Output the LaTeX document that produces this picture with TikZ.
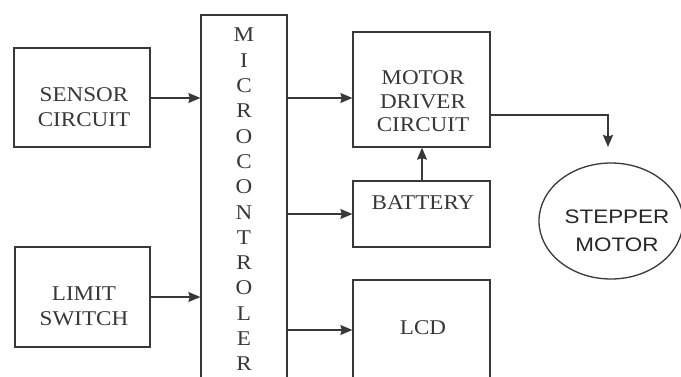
\documentclass[tikz,border=0pt]{standalone}
\usepackage{fontspec}
\setmainfont{Liberation Serif}[FakeStretch=1.1]
\newfontfamily\stepfont{Liberation Sans}[FakeStretch=1.15]
\usetikzlibrary{arrows.meta,shapes.geometric}
\definecolor{ink}{HTML}{383838}
\tikzset{
  box/.style={draw=ink, line width=1.3pt, rectangle, inner sep=0pt},
  lbl/.style={text=ink, align=center, inner sep=0pt, font=\fontsize{21}{25}\selectfont},
  conn/.style={draw=ink, line width=1.3pt, -{Stealth[length=12pt,width=10pt,inset=1.5pt]}},
}
\begin{document}
\begin{tikzpicture}[x=1pt,y=-1pt]
\useasboundingbox[fill=white] (0,0) rectangle (681,376);
% boxes
\node[box, minimum width=136pt, minimum height=99pt] (sensor) at (82,97.5) {};
\node[box, minimum width=135pt, minimum height=100pt] (limit) at (82.5,297) {};
\node[box, minimum width=86pt, minimum height=375pt] (micro) at (244,202.5) {};
\node[box, minimum width=137pt, minimum height=115pt] (driver) at (421.5,89.5) {};
\node[box, minimum width=137pt, minimum height=66pt] (battery) at (421.5,214) {};
\node[box, minimum width=137pt, minimum height=110pt] (lcd) at (421.5,335) {};
\node[draw=ink, line width=1.3pt, ellipse, minimum width=144pt, minimum height=116pt, inner sep=0pt] (stepper) at (611,221) {};
% texts
\node[lbl] (sensortxt) at (84,107) {SENSOR\\CIRCUIT};
\node[lbl] (limittxt) at (84,306) {LIMIT\\SWITCH};
\node[lbl, anchor=north, font=\fontsize{21}{25.3}\selectfont] (microtxt) at (244,28) {M\\I\\C\\R\\O\\C\\O\\N\\T\\R\\O\\L\\E\\R};
\node[lbl, font=\fontsize{21}{23.5}\selectfont] (drivertxt) at (423,101.5) {MOTOR\\DRIVER\\CIRCUIT};
\node[lbl] (batterytxt) at (423,202.5) {BATTERY};
\node[lbl] (lcdtxt) at (423,327.5) {LCD};
\node[lbl, font=\fontsize{19.5}{28}\selectfont\stepfont, text=black!85] (steppertxt) at (617,231) {STEPPER\\MOTOR};
% connectors
\draw[conn] (sensor.east |- 0,98) -- (micro.west |- 0,98);
\draw[conn] (limit.east |- 0,297) -- (micro.west |- 0,297);
\draw[conn] (micro.east |- 0,98) -- (driver.west |- 0,98);
\draw[conn] (micro.east |- 0,214) -- (battery.west |- 0,214);
\draw[conn] (micro.east |- 0,330) -- (lcd.west |- 0,330);
\draw[conn] (battery.north -| 422,0) -- (driver.south -| 422,0);
\coordinate (motorin) at (608,147);
\draw[conn] (driver.east |- 0,115) -| (motorin);
\end{tikzpicture}
\end{document}
